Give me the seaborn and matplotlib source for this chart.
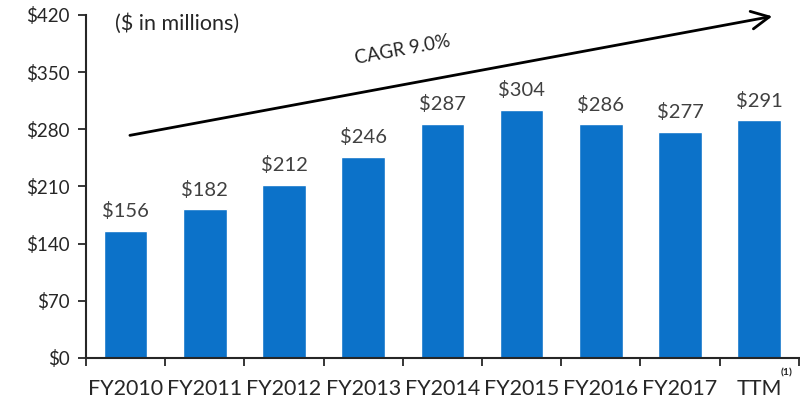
import numpy as np
import pandas as pd
import seaborn as sns
import matplotlib.pyplot as plt
from matplotlib.transforms import blended_transform_factory

sns.set_style('ticks')
plt.rcParams['font.family'] = ['Lato', 'DejaVu Sans']

# data
years = ['FY2010', 'FY2011', 'FY2012', 'FY2013', 'FY2014',
         'FY2015', 'FY2016', 'FY2017', 'TTM']
revenue = [156, 182, 212, 246, 287, 304, 286, 277, 291]
yticks = [0, 70, 140, 210, 280, 350, 420]
cagr_text = 'CAGR 9.0%'

df = pd.DataFrame({'year': years, 'revenue': revenue})

fig = plt.figure(figsize=(8, 4.03), dpi=100)
ax = fig.add_axes([0.1075, 0.1117, 0.891, 0.8511])

sns.barplot(data=df, x='year', y='revenue', color='#0C72C9',
            saturation=1, width=0.55, ax=ax)

# value labels
for i, v in enumerate(revenue):
    ax.text(i, v + 13, f'${v}', ha='center', va='bottom',
            fontsize=14.5, color='#404040')

# axes
ax.set_xlim(-0.5, len(years) - 0.5)
ax.set_ylim(0, 420)
ax.set_yticks(yticks)
ax.set_yticklabels([f'${t}' for t in yticks], fontsize=13.5)
ax.set_xticks(range(len(years)))
ax.set_xticklabels(years, fontsize=15.5)
ax.set_xticks(np.arange(-0.5, len(years)), minor=True)
ax.tick_params(axis='x', which='major', length=0, pad=15)
ax.tick_params(axis='x', which='minor', length=6, width=1.3, direction='out')
ax.tick_params(axis='y', length=6, width=1.3, pad=6)
ax.set_xlabel('')
ax.set_ylabel('')
sns.despine(ax=ax)
for s in ['left', 'bottom']:
    ax.spines[s].set_linewidth(1.5)

# footnote marker on TTM
tr = blended_transform_factory(ax.transData, ax.transAxes)
ax.text(8.27, -0.045, '(1)', transform=tr, fontsize=7.5, fontweight='bold',
        ha='left', va='center')

# growth arrow
ax.annotate('', xy=(8.2, 419), xytext=(0.02, 272),
            arrowprops=dict(arrowstyle='->', lw=2, color='black',
                            mutation_scale=32))
ax.text(3.5, 377, cagr_text, rotation=10.5, ha='center', va='center',
        fontsize=13.5)

ax.text(0.04, 0.975, '($ in millions)', transform=ax.transAxes,
        fontsize=15.5, ha='left', va='center')

plt.savefig('out.png', dpi=100)
